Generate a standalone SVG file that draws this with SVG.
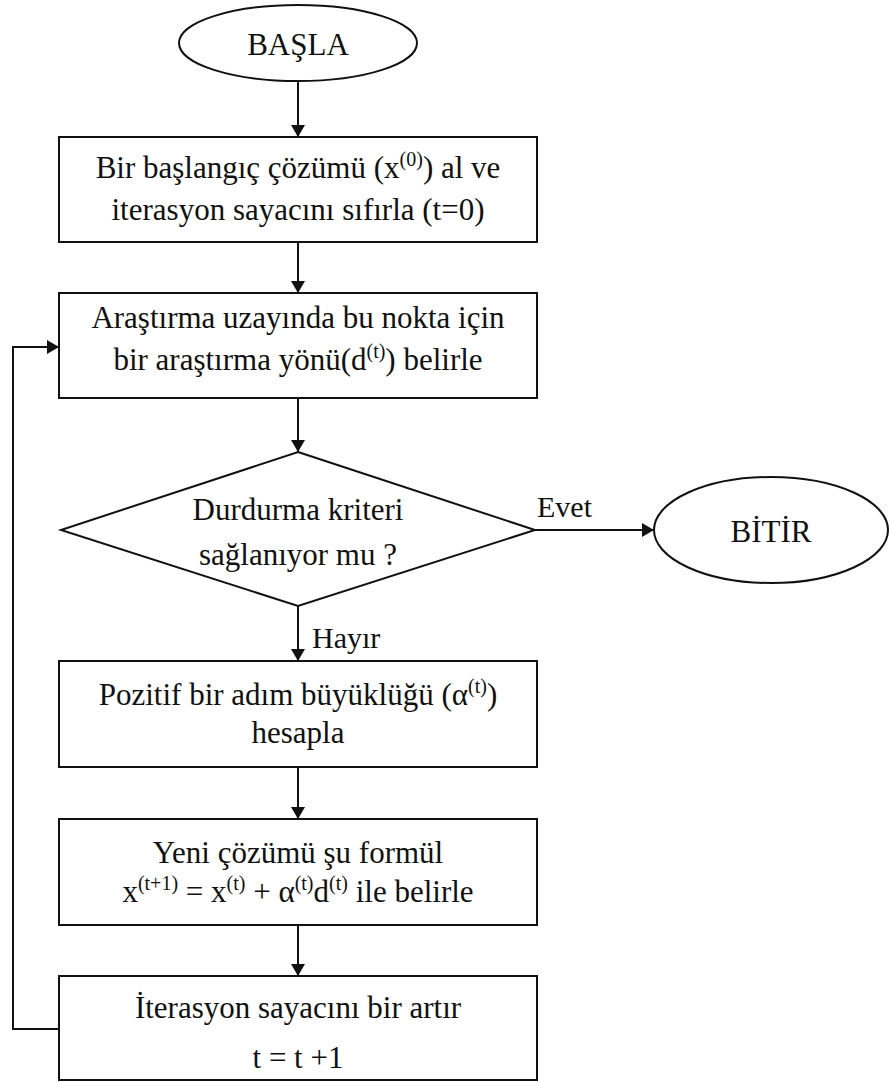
<svg xmlns="http://www.w3.org/2000/svg" width="890" height="1082" viewBox="0 0 890 1082">
<style>
text{font-family:'Liberation Serif','DejaVu Serif',serif;font-size:31px;fill:#111;text-anchor:middle}
.sh{fill:#fff;stroke:#111;stroke-width:2}
.c{fill:none;stroke:#111;stroke-width:2}
.sup{font-size:20px}
.lbl{text-anchor:start;font-size:30px}
</style>
<defs>
<marker id="ah" viewBox="0 0 12 14" refX="12" refY="7" markerWidth="12" markerHeight="14" markerUnits="userSpaceOnUse" orient="auto">
<path d="M0,0 L12,7 L0,14 Z" fill="#111"/>
</marker>
</defs>
<g id="connectors">
<line class="c" x1="298" y1="82" x2="298" y2="137" marker-end="url(#ah)"/>
<line class="c" x1="298" y1="242" x2="298" y2="293" marker-end="url(#ah)"/>
<line class="c" x1="298" y1="398" x2="298" y2="452" marker-end="url(#ah)"/>
<line class="c" x1="298" y1="606" x2="298" y2="661" marker-end="url(#ah)"/>
<line class="c" x1="298" y1="767" x2="298" y2="819" marker-end="url(#ah)"/>
<line class="c" x1="298" y1="925" x2="298" y2="976" marker-end="url(#ah)"/>
<line class="c" x1="535" y1="530" x2="654" y2="530" marker-end="url(#ah)"/>
<polyline class="c" points="59,1029 13,1029 13,347 59,347" marker-end="url(#ah)"/>
<text class="lbl" x="537" y="517">Evet</text>
<text class="lbl" x="312" y="648">Hayır</text>
</g>
<g id="start">
<ellipse class="sh" cx="298" cy="43" rx="119" ry="38"/>
<text x="298" y="55">BAŞLA</text>
</g>
<g id="init">
<rect class="sh" x="59" y="137" width="478" height="105"/>
<text x="298" y="178">Bir başlangıç çözümü (x<tspan class="sup" dy="-12">(0)</tspan><tspan dy="12">) al ve</tspan></text>
<text x="298" y="220">iterasyon sayacını sıfırla (t=0)</text>
</g>
<g id="direction">
<rect class="sh" x="59" y="293" width="478" height="105"/>
<text x="298" y="328">Araştırma uzayında bu nokta için</text>
<text x="298" y="370">bir araştırma yönü(d<tspan class="sup" dy="-12">(t)</tspan><tspan dy="12">) belirle</tspan></text>
</g>
<g id="decision">
<polygon class="sh" points="298,452 535,530 298,606 61,530"/>
<text x="298" y="520" font-size="30">Durdurma kriteri</text>
<text x="298" y="565" font-size="30">sağlanıyor mu ?</text>
</g>
<g id="end">
<ellipse class="sh" cx="771" cy="530" rx="117" ry="53"/>
<text x="771" y="542" font-size="30">BİTİR</text>
</g>
<g id="step">
<rect class="sh" x="59" y="661" width="478" height="106"/>
<text x="298" y="705">Pozitif bir adım büyüklüğü (α<tspan class="sup" dy="-12">(t)</tspan><tspan dy="12">)</tspan></text>
<text x="298" y="743">hesapla</text>
</g>
<g id="update">
<rect class="sh" x="59" y="819" width="478" height="106"/>
<text x="298" y="863">Yeni çözümü şu formül</text>
<text x="298" y="902">x<tspan class="sup" dy="-12">(t+1)</tspan><tspan dy="12"> = x</tspan><tspan class="sup" dy="-12">(t)</tspan><tspan dy="12"> + α</tspan><tspan class="sup" dy="-12">(t)</tspan><tspan dy="12">d</tspan><tspan class="sup" dy="-12">(t)</tspan><tspan dy="12"> ile belirle</tspan></text>
</g>
<g id="increment">
<rect class="sh" x="59" y="976" width="478" height="104"/>
<text x="298" y="1018">İterasyon sayacını bir artır</text>
<text x="298" y="1068">t = t +1</text>
</g>
</svg>
